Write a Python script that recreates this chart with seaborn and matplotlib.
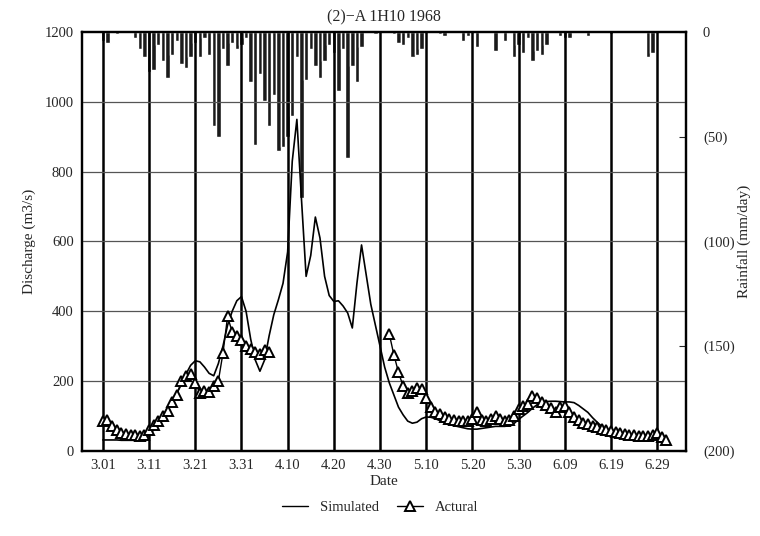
import numpy as np
import pandas as pd
import matplotlib
matplotlib.use("Agg")
import matplotlib.pyplot as plt
import seaborn as sns
from matplotlib.lines import Line2D

# =========================
#  Data, day 0 = 3.01
# =========================
tick_days = [0, 10, 20, 30, 40, 50, 60, 70, 80, 90, 100, 110, 120]
tick_labels = ["3.01", "3.11", "3.21", "3.31", "4.10", "4.20", "4.30",
               "5.10", "5.20", "5.30", "6.09", "6.19", "6.29"]

# daily rainfall (mm/day), 3.01 .. 6.30
rain = [4, 5, 0, 1, 0, 0, 0, 3, 8, 12, 19, 18, 6, 14, 22, 11, 4, 15, 17, 12,
        5, 12, 3, 11, 45, 50, 8, 16, 5, 8, 6, 3, 24, 54, 20, 33, 45, 30, 57, 55,
        50, 40, 12, 79, 23, 8, 16, 22, 14, 6, 10, 28, 8, 60, 16, 24, 7, 0, 0, 1,
        0, 0, 0, 1, 5, 6, 3, 12, 11, 8, 0, 0, 0, 1, 2, 0, 0, 0, 4, 2,
        0, 7, 0, 0, 0, 9, 0, 4, 0, 12, 6, 10, 3, 14, 9, 11, 6, 0, 0, 2,
        3, 3, 0, 0, 0, 2, 0, 0, 0, 0, 1, 0, 0, 0, 0, 0, 0, 0, 12, 10,
        0, 0]

# simulated discharge (m3/s), daily from 3.01
simulated = [31, 31, 31, 31, 30, 30, 30, 30, 30, 32,
             45, 60, 80, 100, 120, 140, 165, 190, 220, 245,
             258, 255, 240, 222, 215, 250, 300, 360, 400, 430,
             442, 400, 320, 260, 228, 260, 330, 390, 433, 480,
             570, 830, 950, 720, 500, 560, 670, 610, 500, 445,
             428, 430, 415, 395, 352, 480, 590, 505, 420, 360,
             300, 240, 195, 160, 125, 103, 85, 79, 82, 92,
             97, 96, 92, 86, 80, 76, 72, 69, 66, 63,
             62, 62, 64, 66, 68, 70, 70, 70, 72, 78,
             90, 100, 110, 122, 132, 138, 141, 142, 142, 141,
             140, 140, 138, 130, 120, 110, 95, 82, 70, 62,
             56, 52, 49, 47, 45, 43, 41, 39, 37, 35,
             33, 31, 29]

# observed discharge, two recorded stretches
actual_start1 = 0
actual1 = [85, 88, 72, 60, 52, 48, 46, 44, 42, 45, 60, 75, 85, 100, 115, 140,
           160, 200, 215, 220, 195, 165, 170, 168, 185, 200, 280, 385, 340,
           330, 318, 300, 292, 282, 278, 290, 282]
actual_start2 = 62
actual2 = [335, 275, 225, 185, 165, 170, 180, 178, 150, 125, 112, 104, 98, 92,
           88, 85, 84, 86, 92, 112, 88, 86, 90, 100, 92, 86, 88, 100, 120, 128,
           135, 158, 150, 140, 132, 122, 112, 125, 128, 110, 98, 88, 80, 76,
           72, 67, 63, 60, 56, 54, 50, 48, 46, 45, 43, 42, 42, 45, 52, 40, 32]

df_sim = pd.DataFrame({"day": np.arange(len(simulated)), "q": simulated})
df_act1 = pd.DataFrame({"day": actual_start1 + np.arange(len(actual1)), "q": actual1})
df_act2 = pd.DataFrame({"day": actual_start2 + np.arange(len(actual2)), "q": actual2})

# =========================
#  Figure
# =========================
sns.set_style("white")
plt.rcParams["font.family"] = ["Liberation Serif", "DejaVu Serif"]
plt.rcParams["axes.edgecolor"] = "black"

fig = plt.figure(figsize=(7.6, 5.36), dpi=100)
ax = fig.add_axes([0.108, 0.159, 0.795, 0.781])

# grid
for d in tick_days:
    ax.axvline(d, color="black", lw=1.8, zorder=1)
for q in [200, 400, 600, 800, 1000]:
    ax.axhline(q, color="#555555", lw=0.9, zorder=1)

sns.lineplot(data=df_sim, x="day", y="q", ax=ax, color="black", lw=1.2, zorder=3)
for dd in (df_act1, df_act2):
    sns.lineplot(data=dd, x="day", y="q", ax=ax, color="black", lw=1.0,
                 marker="^", markersize=7, markerfacecolor="white",
                 markeredgecolor="black", markeredgewidth=1.4, zorder=4)

ax.set_xlim(-4.5, 126.3)
ax.set_ylim(0, 1200)
ax.set_xticks(tick_days)
ax.set_xticklabels(tick_labels)
ax.set_yticks([0, 200, 400, 600, 800, 1000, 1200])
ax.tick_params(axis="both", labelsize=10.5, length=0, pad=6)
ax.set_xlabel("Date", fontsize=11, labelpad=2)
ax.set_ylabel("Discharge (m3/s)", fontsize=11, labelpad=6)
ax.set_title("(2)\u2212A 1H10 1968", fontsize=11.5, pad=8)
for s in ax.spines.values():
    s.set_linewidth(1.6)

# rainfall hanging from the top
ax2 = ax.twinx()
ax2.bar(np.arange(len(rain)), rain, width=0.95, color="#1a1a1a", zorder=2)
ax2.set_ylim(200, 0)
ax2.set_yticks([0, 50, 100, 150, 200])
ax2.set_yticklabels(["0", "(50)", "(100)", "(150)", "(200)"])
ax2.tick_params(axis="y", labelsize=10.5, direction="in", length=5, pad=12)
ax2.set_ylabel("Rainfall (mm/day)", fontsize=11, labelpad=2)
for s in ax2.spines.values():
    s.set_linewidth(1.6)
ax2.set_zorder(ax.get_zorder() - 1)
ax.patch.set_visible(False)

handles = [
    Line2D([], [], color="black", lw=1.0),
    Line2D([], [], color="black", lw=1.0, marker="^", markersize=7,
           markerfacecolor="white", markeredgecolor="black", markeredgewidth=1.4),
]
fig.legend(handles, ["Simulated", "Actural"], loc="center",
           bbox_to_anchor=(0.5, 0.053), ncol=2, frameon=False,
           fontsize=10.5, handlelength=1.8, columnspacing=1.2)

plt.savefig("out.png", dpi=100)
plt.close()
